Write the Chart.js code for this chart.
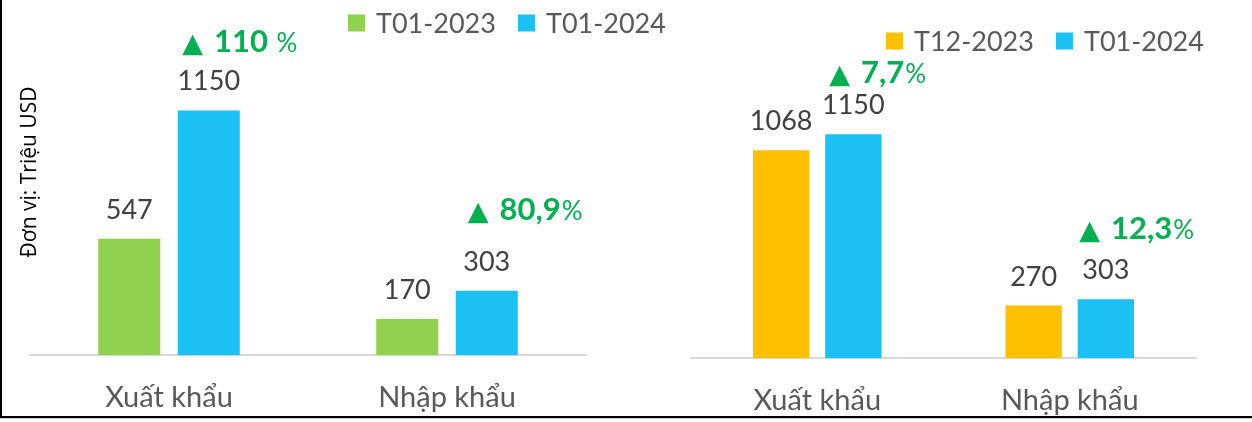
<!DOCTYPE html>
<html>
<head>
<meta charset="utf-8">
<script src="https://cdn.jsdelivr.net/npm/chart.js@4.4.1/dist/chart.umd.min.js"></script>
<style>
    html, body { margin: 0; padding: 0; background: #fff; }
    #wrap { position: relative; width: 1252px; height: 422px; overflow: hidden; }
    #leftBox { position: absolute; left: 0; top: 0; width: 680px; height: 440px; }
    #rightBox { position: absolute; left: 680px; top: 0; width: 572px; height: 443px; }
    .edge { position: absolute; background: #000; z-index: 5; }
</style>
</head>
<body>
<div id="wrap">
    <div id="leftBox"><canvas id="leftChart"></canvas></div>
    <div id="rightBox"><canvas id="rightChart"></canvas></div>
    <div class="edge" style="left:0;top:0;width:2px;height:418px;"></div>
    <div class="edge" style="left:0;top:416px;width:1252px;height:2px;"></div>
    <div class="edge" style="left:0;top:418px;width:1252px;height:4px;background:#fff;"></div>
    <div class="edge" style="left:0;top:418px;width:1252px;height:1px;background:#cfcfcf;"></div>
</div>
<script>
// Categories and series
const categories = ['Xuất khẩu', 'Nhập khẩu'];

const leftSeriesNames = ['T01-2023', 'T01-2024'];
const leftPrev = [547, 170];
const leftCurr = [1150, 303];
const leftChange = ['110 ', '80,9'];

const rightSeriesNames = ['T12-2023', 'T01-2024'];
const rightPrev = [1068, 270];
const rightCurr = [1150, 303];
const rightChange = ['7,7', '12,3'];

const GREEN = '#92D050';
const BLUE = '#1BC1F2';
const YELLOW = '#FFC000';
const UP_GREEN = '#00B050';
const FONT = 'Lato, "Open Sans", sans-serif';

// Value above each bar
const valueLabels = {
    id: 'valueLabels',
    afterDatasetsDraw(chart) {
        const ctx = chart.ctx;
        ctx.save();
        ctx.font = '27px ' + FONT;
        ctx.fillStyle = '#404040';
        ctx.textAlign = 'center';
        ctx.textBaseline = 'alphabetic';
        chart.data.datasets.forEach((ds, i) => {
            chart.getDatasetMeta(i).data.forEach((bar, j) => {
                ctx.fillText(ds.data[j], bar.x, bar.y - 20);
            });
        });
        ctx.restore();
    }
};

// "▲ x%" growth markers, anchored to the second series bars
const changeLabels = {
    id: 'changeLabels',
    afterDatasetsDraw(chart, args, opts) {
        const ctx = chart.ctx;
        const bars = chart.getDatasetMeta(1).data;
        ctx.save();
        ctx.fillStyle = UP_GREEN;
        ctx.textAlign = 'left';
        ctx.textBaseline = 'alphabetic';
        opts.texts.forEach((txt, j) => {
            const bar = bars[j];
            let x = bar.x + opts.offsets[j][0];
            const y = bar.y - opts.offsets[j][1];
            ctx.font = 'bold 27px "DejaVu Sans"';
            ctx.fillText('▲', x, y);
            x += ctx.measureText('▲').width + 11;
            ctx.font = 'bold 31px ' + FONT;
            ctx.fillText(txt, x, y);
            x += ctx.measureText(txt).width + 1;
            ctx.font = '26px ' + FONT;
            ctx.fillText('%', x, y);
        });
        ctx.restore();
    }
};

// Legend drawn at a fixed spot from the datasets
const legendAt = {
    id: 'legendAt',
    afterDraw(chart, args, opts) {
        const ctx = chart.ctx;
        ctx.save();
        ctx.font = '27px ' + FONT;
        ctx.textBaseline = 'middle';
        ctx.textAlign = 'left';
        let x = opts.x;
        chart.data.datasets.forEach(ds => {
            ctx.fillStyle = ds.backgroundColor;
            ctx.fillRect(x, opts.y - 8.5, 17, 17);
            x += 17 + 11;
            ctx.fillStyle = '#595959';
            ctx.fillText(ds.label, x, opts.y + 1);
            x += ctx.measureText(ds.label).width + 22;
        });
        ctx.restore();
    }
};

const unitTitle = {
    id: 'unitTitle',
    afterDraw(chart, args, opts) {
        if (!opts.text) return;
        const ctx = chart.ctx;
        ctx.save();
        ctx.translate(opts.x, opts.y);
        ctx.rotate(-Math.PI / 2);
        ctx.font = '21px "Open Sans"';
        ctx.fillStyle = '#000';
        ctx.textAlign = 'center';
        ctx.textBaseline = 'alphabetic';
        ctx.fillText(opts.text, 0, 0);
        ctx.restore();
    }
};

function makeChart(id, names, prev, curr, colors, cfg) {
    return new Chart(document.getElementById(id), {
        type: 'bar',
        data: {
            labels: categories,
            datasets: [
                { label: names[0], data: prev, backgroundColor: colors[0],
                  categoryPercentage: 0.572, barPercentage: 0.78 },
                { label: names[1], data: curr, backgroundColor: colors[1],
                  categoryPercentage: 0.572, barPercentage: 0.78 }
            ]
        },
        options: {
            responsive: true,
            maintainAspectRatio: false,
            animation: false,
            events: [],
            layout: { padding: cfg.padding },
            plugins: {
                legend: { display: false },
                tooltip: { enabled: false },
                changeLabels: { texts: cfg.change, offsets: cfg.offsets },
                legendAt: cfg.legend,
                unitTitle: cfg.title || {}
            },
            scales: {
                x: {
                    grid: { display: false, drawTicks: false },
                    border: { display: true, color: '#d9d9d9', width: 2 },
                    ticks: { color: '#595959', font: { family: FONT, size: 29 }, padding: 25 }
                },
                y: { display: false, min: 0, max: 1500 }
            }
        },
        plugins: [valueLabels, changeLabels, legendAt, unitTitle]
    });
}

makeChart('leftChart', leftSeriesNames, leftPrev, leftCurr, [GREEN, BLUE], {
    padding: { left: 30, right: 94, top: 36, bottom: 0 },
    change: leftChange,
    offsets: [[-26.5, 58], [-19, 71]],
    legend: { x: 348, y: 23 },
    title: { text: 'Đơn vị: Triệu USD', x: 36, y: 172 }
});

makeChart('rightChart', rightSeriesNames, rightPrev, rightCurr, [YELLOW, BLUE], {
    padding: { left: 11, right: 56, top: 66, bottom: 0 },
    change: rightChange,
    offsets: [[-24, 51], [-26.5, 60]],
    legend: { x: 206, y: 41 }
});
</script>
</body>
</html>
